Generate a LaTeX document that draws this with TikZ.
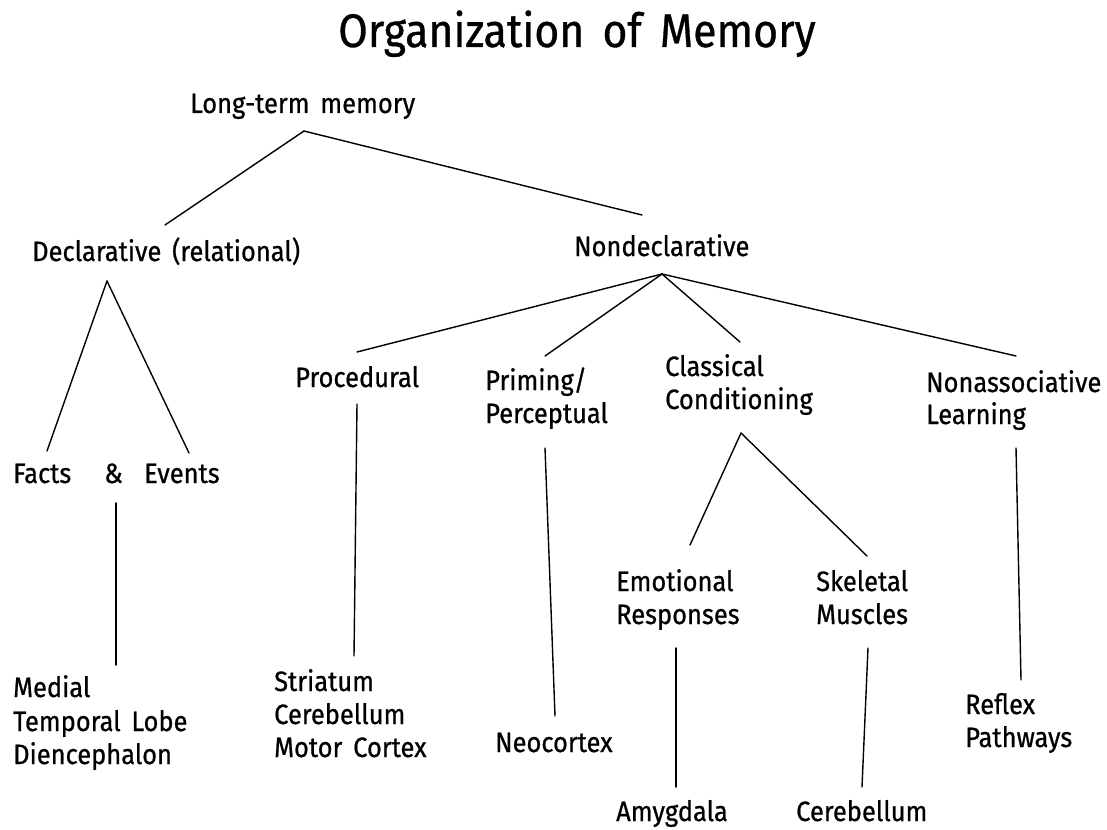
\documentclass[tikz,border=0pt]{standalone}
\usepackage{fontspec}
\setmainfont{Fira Sans}[FakeStretch=0.91,FakeBold=0.7,WordSpace=1.6]
\tikzset{
  lbl/.style={anchor=base west, inner sep=0pt, font=\fontsize{28}{33}\selectfont},
  ttl/.style={anchor=base, inner sep=0pt, font=\fontsize{47}{56}\selectfont},
  conn/.style={line width=1.4pt, line cap=round}
}
\begin{document}
\begin{tikzpicture}[x=1pt,y=-1pt]
\useasboundingbox (0,0) rectangle (1107,829);
% title
\node[ttl] (title) at (577,47) {Organization of Memory};
% labels
\node[lbl] (ltm) at (190,113) {Long-term memory};
\node[lbl] (decl) at (32,261) {Declarative (relational)};
\node[lbl] (nondecl) at (574,256) {Nondeclarative};
\node[lbl] (facts) at (13,483) {Facts};
\node[lbl] (amp) at (104,483) {\&};
\node[lbl] (events) at (144,483) {Events};
\node[lbl] (proc) at (295,387) {Procedural};
\node[lbl] (prim1) at (485,390) {Priming/};
\node[lbl] (prim2) at (485,423) {Perceptual};
\node[lbl] (class1) at (665,376) {Classical};
\node[lbl] (class2) at (665,409) {Conditioning};
\node[lbl] (nonas1) at (926,392) {Nonassociative};
\node[lbl] (nonas2) at (926,424) {Learning};
\node[lbl] (emo1) at (616,591) {Emotional};
\node[lbl] (emo2) at (616,624) {Responses};
\node[lbl] (skel1) at (816,591) {Skeletal};
\node[lbl] (skel2) at (816,624) {Muscles};
\node[lbl] (med1) at (13,697) {Medial};
\node[lbl] (med2) at (13,731) {Temporal Lobe};
\node[lbl] (med3) at (13,764) {Diencephalon};
\node[lbl] (str1) at (274,691) {Striatum};
\node[lbl] (str2) at (274,724) {Cerebellum};
\node[lbl] (str3) at (274,757) {Motor Cortex};
\node[lbl] (neo) at (495,752) {Neocortex};
\node[lbl] (refl1) at (965,714) {Reflex};
\node[lbl] (refl2) at (965,747) {Pathways};
\node[lbl] (amyg) at (616,821) {Amygdala};
\node[lbl] (cereb) at (796,821) {Cerebellum};
% connector end points
\coordinate (ltmB) at (304,131);
\coordinate (declT) at (165,225);
\coordinate (nondeclT) at (642,215);
\coordinate (declB) at (107,281);
\coordinate (factsT) at (47,451);
\coordinate (eventsT) at (189,453);
\coordinate (ampB) at (116,503);
\coordinate (medT) at (116,665);
\coordinate (nondeclB) at (662,274);
\coordinate (procT) at (357,352);
\coordinate (primT) at (545,356);
\coordinate (classT) at (740,342);
\coordinate (nonasT) at (1016,356);
\coordinate (procB) at (357,404);
\coordinate (strT) at (354,656);
\coordinate (primB) at (545,448);
\coordinate (neoT) at (555,716);
\coordinate (classB) at (741,433);
\coordinate (emoT) at (690,545);
\coordinate (skelT) at (867,556);
\coordinate (nonasB) at (1016,448);
\coordinate (reflT) at (1021,680);
\coordinate (emoB) at (676,648);
\coordinate (amygT) at (676,787);
\coordinate (skelB) at (868,648);
\coordinate (cerebT) at (862,787);
% connectors
\draw[conn] (ltmB) -- (declT);
\draw[conn] (ltmB) -- (nondeclT);
\draw[conn] (declB) -- (factsT);
\draw[conn] (declB) -- (eventsT);
\draw[conn] (ampB) -- (medT);
\draw[conn] (nondeclB) -- (procT);
\draw[conn] (nondeclB) -- (primT);
\draw[conn] (nondeclB) -- (classT);
\draw[conn] (nondeclB) -- (nonasT);
\draw[conn] (procB) -- (strT);
\draw[conn] (primB) -- (neoT);
\draw[conn] (classB) -- (emoT);
\draw[conn] (classB) -- (skelT);
\draw[conn] (nonasB) -- (reflT);
\draw[conn] (emoB) -- (amygT);
\draw[conn] (skelB) -- (cerebT);
\end{tikzpicture}
\end{document}
